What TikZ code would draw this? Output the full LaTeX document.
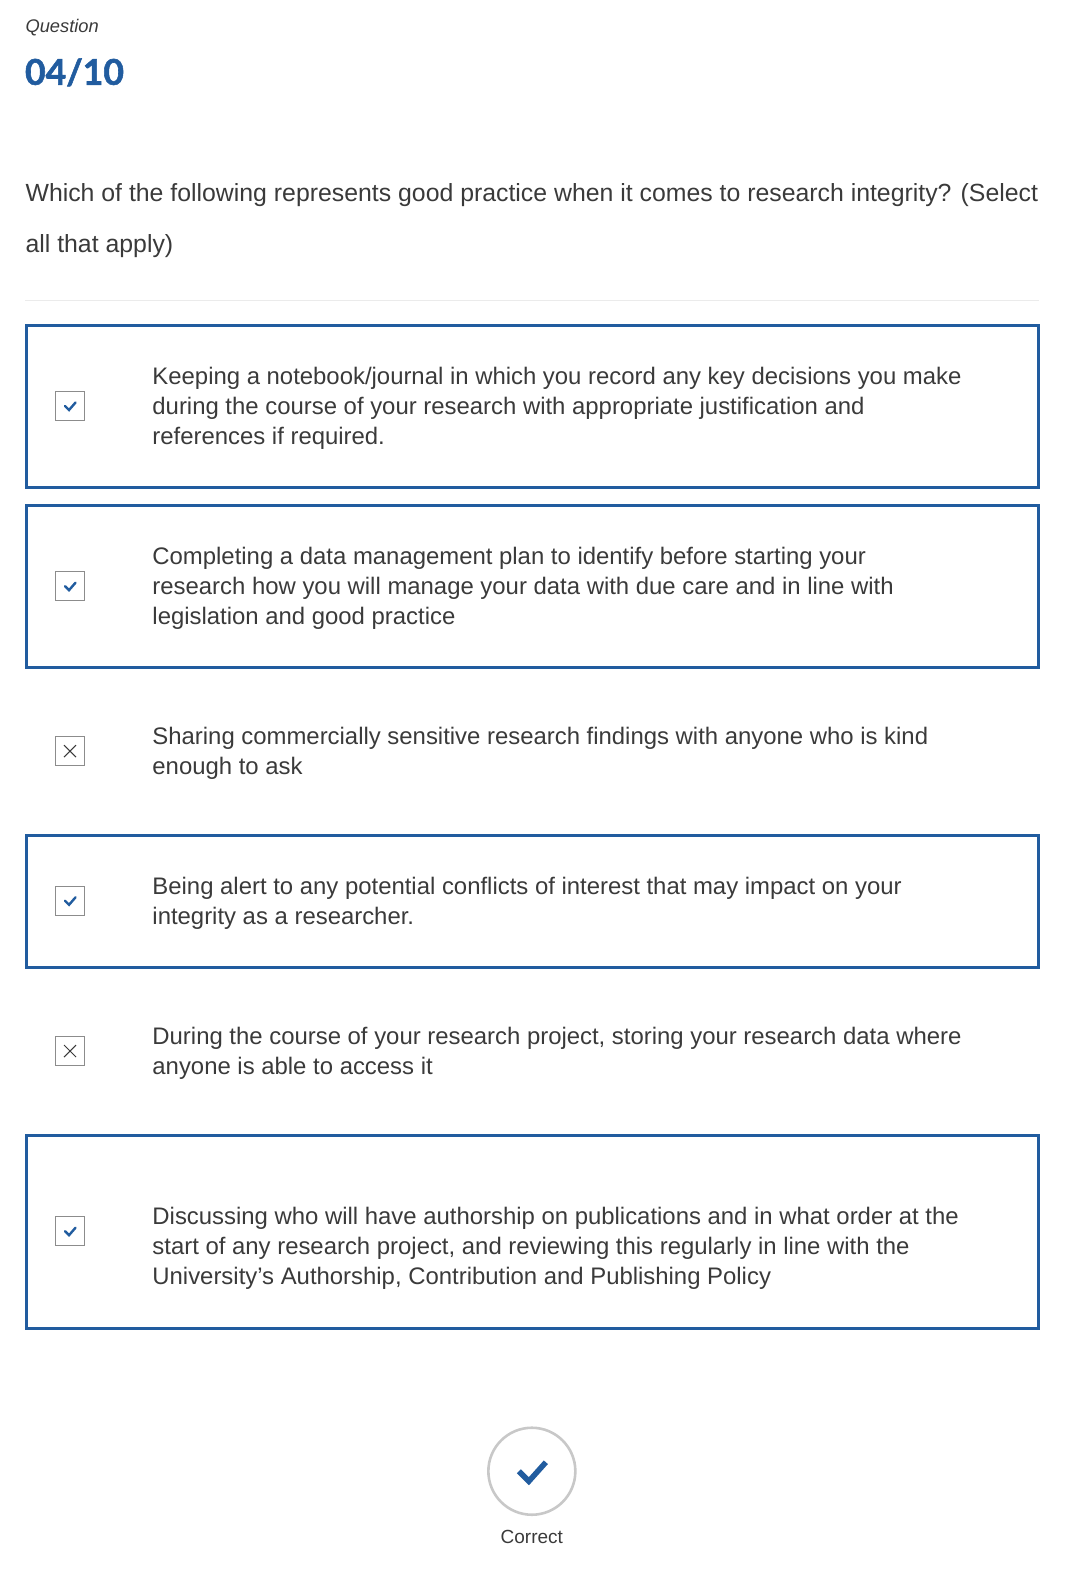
\documentclass[tikz,border=0pt]{standalone}
\usepackage{fontspec}
\setmainfont{Liberation Sans}
\newfontfamily\latofont{Lato}[BoldFeatures={FakeBold=1.6}]
\definecolor{uniblue}{HTML}{215C9F}
\definecolor{txt}{HTML}{3A3A3A}
\definecolor{boxgray}{HTML}{8C8C8C}
\definecolor{rulegray}{HTML}{EBEBEB}
\definecolor{ringgray}{HTML}{C8C8C8}
\tikzset{
  optbox/.style={draw=uniblue,line width=3pt,fill=none},
  chk/.style={draw=boxgray,line width=1pt,minimum width=29pt,minimum height=29pt,inner sep=0pt,fill=white},
  opt/.style={anchor=west,align=left,inner sep=0pt,text=txt,font=\fontsize{23.9}{30}\selectfont},
  tick/.style={draw=uniblue,line width=2.4pt,line cap=round,line join=miter},
  cross/.style={draw=txt,line width=1pt},
  question/.style={anchor=west,align=left,inner sep=0pt,text=txt,font=\fontsize{24.83}{50.7}\selectfont}
}
\begin{document}
\begin{tikzpicture}[x=1.015pt,y=-1.015pt]
\useasboundingbox (0,0) rectangle (1065,1567.5);
\node[anchor=base west,inner sep=0pt,text=txt,font=\fontsize{18.3}{20}\selectfont\itshape] (q) at (25,32) {Question};
\node[anchor=base west,inner sep=0pt,text=uniblue,font=\fontsize{35.5}{40}\selectfont\latofont\bfseries] (n) at (24.5,83.5) {04/10};
\node[question] (stem) at (25,217.5) {Which of the following represents good practice when it comes to research integrity? (Select\\all that apply)};
\draw[rulegray,line width=1pt] (25,296) -- (1024,296);
% option frames
\draw[optbox] (26,321) rectangle (1023,480.5);
\draw[optbox] (26,498) rectangle (1023,658);
\draw[optbox] (26,823.5) rectangle (1023,953.5);
\draw[optbox] (26,1119) rectangle (1023,1308.5);
% check boxes
\foreach \nm/\yy in {c1/400,c2/577.5,c4/887.5,c6/1213}{
  \node[chk] (\nm) at (69,\yy) {};
  \draw[tick] ([xshift=-5pt,yshift=0pt]\nm.center) -- ([xshift=-1pt,yshift=-4pt]\nm.center) -- ([xshift=5.5pt,yshift=3.5pt]\nm.center);
}
\foreach \nm/\yy in {c3/740,c5/1035.5}{
  \node[chk] (\nm) at (69,\yy) {};
  \draw[cross] ([xshift=-6pt,yshift=-6pt]\nm.center) -- ([xshift=6pt,yshift=6pt]\nm.center);
  \draw[cross] ([xshift=-6pt,yshift=6pt]\nm.center) -- ([xshift=6pt,yshift=-6pt]\nm.center);
}
% option texts
\node[opt] (t1) at (150,402) {Keeping a notebook/journal in which you record any key decisions you make\\during the course of your research with appropriate justification and\\references if required.};
\node[opt] (t2) at (150,579.5) {Completing a data management plan to identify before starting your\\research how you will manage your data with due care and in line with\\legislation and good practice};
\node[opt] (t3) at (150,742) {Sharing commercially sensitive research findings with anyone who is kind\\enough to ask};
\node[opt] (t4) at (150,890) {Being alert to any potential conflicts of interest that may impact on your\\integrity as a researcher.};
\node[opt] (t5) at (150,1038) {During the course of your research project, storing your research data where\\anyone is able to access it};
\node[opt] (t6) at (150,1230) {Discussing who will have authorship on publications and in what order at the\\start of any research project, and reviewing this regularly in line with the\\University’s Authorship, Contribution and Publishing Policy};
% result
\node[circle,draw=ringgray,line width=2.6pt,minimum size=87pt,inner sep=0pt] (ring) at (524,1449.5) {};
\draw[draw=uniblue,line width=5.5pt] ([xshift=-13pt,yshift=0pt]ring.center) -- ([xshift=-3pt,yshift=-10pt]ring.center) -- ([xshift=14pt,yshift=9pt]ring.center);
\node[anchor=base,inner sep=0pt,text=txt,font=\fontsize{19}{22}\selectfont] (res) at (524,1521) {Correct};
\end{tikzpicture}
\end{document}
